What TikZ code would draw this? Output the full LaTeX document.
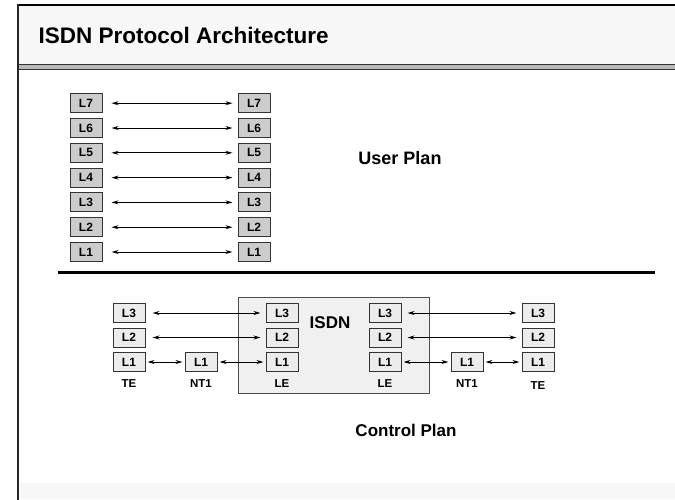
\documentclass[tikz,border=0pt]{standalone}
\usepackage{fontspec}
\setmainfont{Liberation Sans}
\usetikzlibrary{positioning,arrows.meta,calc}
\definecolor{slidegray}{RGB}{247,247,247}
\definecolor{isdngray}{RGB}{240,240,240}
\tikzset{
  layer/.style={draw=black!80, line width=1pt, minimum width=32pt,
                minimum height=19pt, inner sep=0pt,
                font=\fontsize{12}{12}\selectfont\bfseries},
  userlayer/.style={layer, fill=gray!40},
  ctrllayer/.style={layer, fill=gray!15},
  peer/.style={<->, line width=1pt},
  tag/.style={font=\fontsize{11.5}{12}\selectfont\bfseries}
}

\begin{document}
\begin{tikzpicture}[x=1pt, y=-1pt, >={Stealth[length=7pt,width=4pt]},
                    every node/.style={font=\bfseries}]
  \useasboundingbox (0,0) rectangle (675,499);
  \fill[white] (0,0) rectangle (675,499);

  % slide frame
  \fill[slidegray] (18,5) rectangle (675,65);
  \fill[slidegray] (20,483) rectangle (675,499);
  \draw[black!80, line width=1.2pt, fill=gray!55] (18,64.5) rectangle (676,69.5);
  \draw[line width=2pt] (18,5) -- (676,5);
  \draw[black!85, line width=2pt] (18,4) -- (18,500);
  \node[anchor=west, font=\fontsize{22.5}{24}\selectfont\bfseries] (title)
      at (35,35) {ISDN Protocol Architecture};

  % user plan
  \foreach \n in {1,...,7}{
    \node[userlayer] (ul\n) at (86,{252-(\n-1)*24.8}) {L\n};
    \node[userlayer] (ur\n) at (254,{252-(\n-1)*24.8}) {L\n};
    \draw[peer, shorten <=9pt, shorten >=5pt] (ul\n) -- (ur\n);
  }
  \node[font=\fontsize{18}{19}\selectfont\bfseries] (userplan) at (400,158) {User Plan};

  \draw[line width=3pt] (58,272) -- (655,272);

  % control plan
  \node[draw=black!70, line width=0.8pt, fill=isdngray, minimum width=191pt,
        minimum height=96pt, inner sep=0pt] (isdn) at (333.5,345) {};
  \node[font=\fontsize{17}{18}\selectfont\bfseries] (isdnlbl) at (330,323) {ISDN};

  \foreach \n/\y in {3/313,2/337.5,1/362}{
    \node[ctrllayer] (teA\n) at (129,\y) {L\n};
    \node[ctrllayer] (leA\n) at (282,\y) {L\n};
    \node[ctrllayer] (leB\n) at (385,\y) {L\n};
    \node[ctrllayer] (teB\n) at (538,\y) {L\n};
  }
  \node[ctrllayer] (ntA) at (201,362) {L1};
  \node[ctrllayer] (ntB) at (467,362) {L1};

  \foreach \n in {3,2}{
    \draw[peer, shorten <=7pt, shorten >=5pt] (teA\n) -- (leA\n);
    \draw[peer, shorten <=6pt, shorten >=5pt] (leB\n) -- (teB\n);
  }
  \draw[peer, shorten <=2pt, shorten >=2pt] (teA1) -- (ntA);
  \draw[peer, shorten <=2pt, shorten >=2pt] (ntA) -- (leA1);
  \draw[peer, shorten <=2pt, shorten >=2pt] (leB1) -- (ntB);
  \draw[peer, shorten <=2pt, shorten >=2pt] (ntB) -- (teB1);

  \node[tag, below=4pt of teA1] (teAlbl) {TE};
  \node[tag, below=4pt of ntA] (ntAlbl) {NT1};
  \node[tag, below=4pt of leA1] (leAlbl) {LE};
  \node[tag, below=4pt of leB1] (leBlbl) {LE};
  \node[tag, below=4pt of ntB] (ntBlbl) {NT1};
  \node[tag, below=6pt of teB1] (teBlbl) {TE};

  \node[font=\fontsize{17}{18}\selectfont\bfseries] (ctrlplan) at (406,430) {Control Plan};
\end{tikzpicture}
\end{document}
